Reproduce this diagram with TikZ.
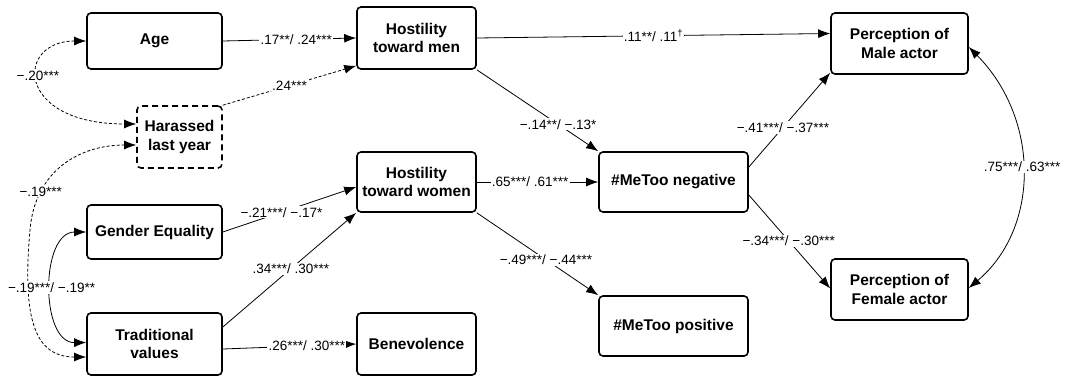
\documentclass[tikz,border=0pt]{standalone}
\usepackage{fontspec}
\setmainfont{Liberation Sans}
\usetikzlibrary{arrows.meta,calc}
\begin{document}
\begin{tikzpicture}[x=1pt,y=-1pt,
  >={Latex[length=12pt,width=9pt]},
  box/.style={draw, line width=1.6pt, rounded corners=4pt, align=center,
    font=\fontsize{15.5}{18.5}\selectfont\bfseries, inner sep=0pt},
  lab/.style={fill=white, inner sep=1.2pt, font=\fontsize{13.5}{15}\selectfont},
  edge/.style={line width=0.8pt, ->},
  dedge/.style={line width=0.8pt, dash pattern=on 3pt off 2pt},
]
\useasboundingbox[fill=white] (0,0) rectangle (1067,377);

% nodes
\node[box, minimum width=135pt, minimum height=56pt] (age) at (154.5,41) {Age};
\node[box, dash pattern=on 6pt off 4pt, minimum width=85pt, minimum height=62pt] (har) at (179.5,137) {Harassed\\last year};
\node[box, minimum width=135pt, minimum height=54pt] (ge) at (154.5,232) {Gender Equality};
\node[box, minimum width=135pt, minimum height=62pt] (trad) at (154.5,344) {Traditional\\values};
\node[box, minimum width=119pt, minimum height=62pt] (hmen) at (416.5,38) {Hostility\\toward men};
\node[box, minimum width=119pt, minimum height=60pt] (hwom) at (416.5,182) {Hostility\\toward women};
\node[box, minimum width=119pt, minimum height=62pt] (ben) at (416.5,344) {Benevolence};
\node[box, minimum width=149pt, minimum height=60pt] (mneg) at (673.5,182) {\#MeToo negative};
\node[box, minimum width=149pt, minimum height=60pt] (mpos) at (673.5,326) {\#MeToo positive};
\node[box, minimum width=137pt, minimum height=61pt] (pmale) at (899.5,43.5) {Perception of\\Male actor};
\node[box, minimum width=137pt, minimum height=61pt] (pfem) at (899.5,289.5) {Perception of\\Female actor};

\coordinate (c19) at (30,230);

% straight paths
\draw[edge] (age.east) -- node[lab,pos=.55]{.17**/ .24***} (hmen.west);
\draw[dedge,->] (har.north east) -- node[lab,pos=.5]{.24***} ([yshift=4pt]hmen.south west);
\draw[edge] (hmen.east) -- node[lab,pos=.5]{.11**/ .11\textsuperscript{†}} ([yshift=10pt]pmale.west);
\draw[edge] (hmen.south east) -- node[lab,pos=.67]{−.14**/ −.13*} (mneg.north west);
\draw[edge] (hwom.east) -- node[lab,pos=.44]{.65***/ .61***} (mneg.west);
\draw[edge] (hwom.south east) -- node[lab,pos=.57]{−.49***/ −.44***} (mpos.north west);
\draw[edge] (ge.east) -- node[lab,pos=.44]{−.21***/ −.17*} ([yshift=-5pt]hwom.west);
\draw[edge] ([yshift=17pt]trad.east) -- node[lab,pos=.51]{.34***/ .30***} (hwom.south west);
\draw[edge] ([yshift=-5pt]trad.east) -- node[lab,pos=.63]{.26***/ .30***} (ben.west);
\draw[edge] ([yshift=15pt]mneg.east) -- node[lab,pos=.42]{−.41***/ −.37***} ([yshift=2pt]pmale.south west);
\draw[edge] ([yshift=-13pt]mneg.east) -- node[lab,pos=.49]{−.34***/ −.30***} ([yshift=1pt]pfem.west);

% correlations
\draw[dedge,<->] (age.west) .. controls (15,41) and (15,124) .. ([yshift=13pt]har.west) node[lab,pos=.45]{−.20***};
\draw[dedge,<->] ([yshift=-8pt]har.west) .. controls (80,145) and (35,170) .. (c19) node[lab,pos=.75]{−.19***}
   .. controls (22,320) and (35,357) .. ([yshift=-13pt]trad.west);
\draw[line width=0.8pt,<->] (ge.west) .. controls (40,232) and (40,343) .. ([yshift=1.5pt]trad.west) node[lab,pos=.5]{−.19***/ −.19**};
\draw[line width=0.8pt,<->] ([yshift=-3.5pt]pmale.east) .. controls (1040,119) and (1040,228) .. ([yshift=1.5pt]pfem.east) node[lab,pos=.48]{.75***/ .63***};
\end{tikzpicture}
\end{document}
